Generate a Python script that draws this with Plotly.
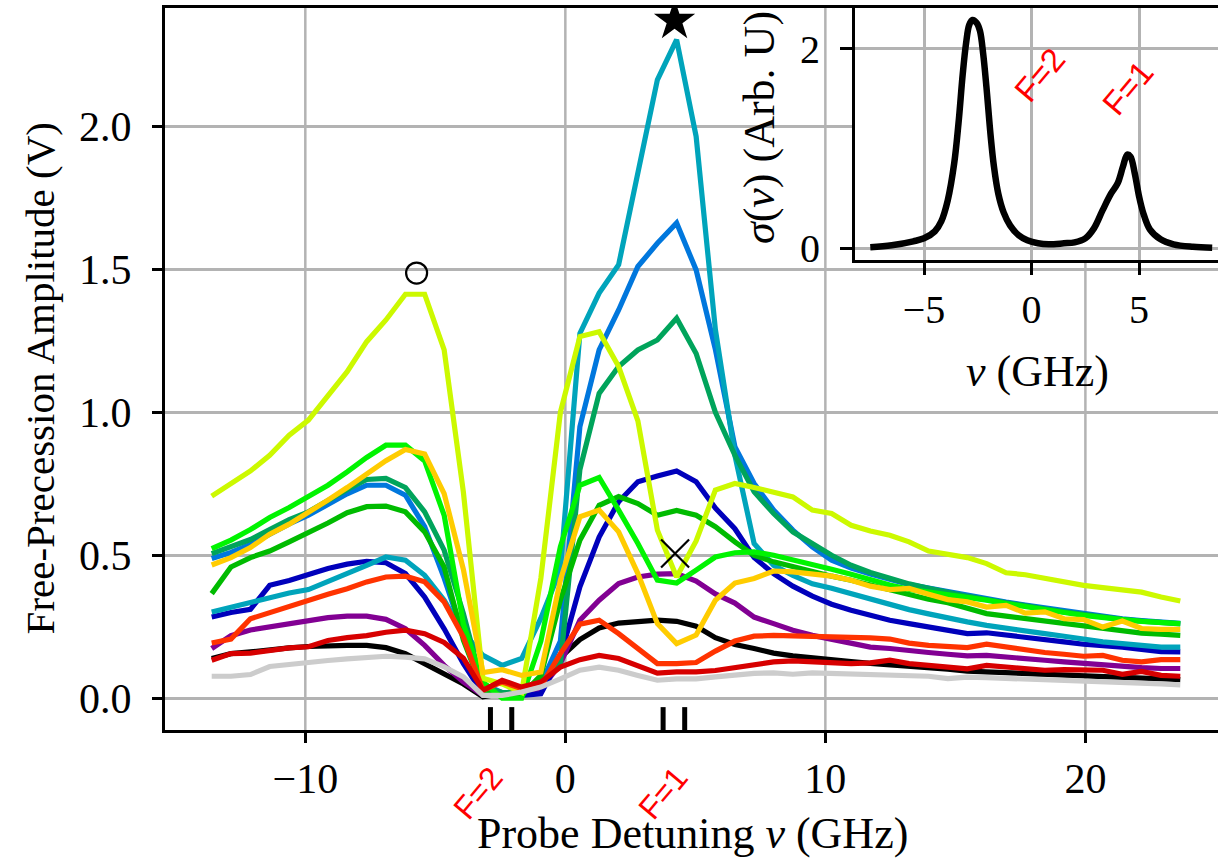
import plotly.graph_objects as go

# Probe detuning grid (GHz)
DETUNING = [-13.60, -12.86, -12.11, -11.37, -10.62, -9.88, -9.13, -8.39, -7.64, -6.90,
            -6.15, -5.41, -4.66, -3.92, -3.17, -2.43, -1.68, -0.94, -0.19, 0.56,
            1.30, 2.05, 2.79, 3.54, 4.28, 5.03, 5.77, 6.52, 7.26, 8.01,
            8.75, 9.50, 10.24, 10.99, 11.73, 12.48, 13.22, 13.97, 14.71, 15.46,
            16.20, 16.95, 17.69, 18.44, 19.18, 19.93, 20.67, 21.42, 22.16, 22.91,
            23.65]

# Free-precession amplitudes (V), one run per colour
AMP_BLACK = [0.139, 0.156, 0.162, 0.170, 0.176, 0.181, 0.185, 0.185, 0.185, 0.177, 0.156, 0.121, 0.086, 0.050, 0.005,
             0.016, 0.028, 0.059, 0.142, 0.205, 0.246, 0.263, 0.270, 0.273, 0.269, 0.252, 0.212,
             0.188, 0.174, 0.158, 0.148, 0.140, 0.134, 0.128, 0.122, 0.118, 0.112, 0.107, 0.102, 0.095,
             0.092, 0.088, 0.086, 0.084, 0.080, 0.078, 0.076, 0.073, 0.071, 0.068, 0.065]
AMP_PURPLE = [0.174, 0.219, 0.239, 0.249, 0.261, 0.272, 0.282, 0.287, 0.287, 0.276, 0.243, 0.185, 0.115, 0.057, 0.010,
              0.020, 0.020, 0.030, 0.121, 0.273, 0.343, 0.401, 0.424, 0.434, 0.436, 0.410, 0.365,
              0.333, 0.284, 0.261, 0.238, 0.220, 0.205, 0.191, 0.179, 0.174, 0.165, 0.160, 0.154, 0.148,
              0.150, 0.143, 0.139, 0.133, 0.127, 0.121, 0.115, 0.112, 0.107, 0.104, 0.104]
AMP_NAVY = [0.284, 0.300, 0.311, 0.395, 0.412, 0.434, 0.454, 0.469, 0.479, 0.474, 0.436, 0.354, 0.243, 0.121, 0.016,
            0.010, 0.010, 0.016, 0.145, 0.390, 0.564, 0.687, 0.757, 0.777, 0.795, 0.757, 0.665,
            0.593, 0.492, 0.436, 0.392, 0.357, 0.329, 0.308, 0.290, 0.273, 0.261, 0.249, 0.238, 0.226,
            0.229, 0.220, 0.212, 0.205, 0.197, 0.189, 0.185, 0.179, 0.171, 0.163, 0.162]
AMP_BLUE = [0.489, 0.510, 0.538, 0.575, 0.610, 0.640, 0.680, 0.715, 0.745, 0.745, 0.710, 0.600, 0.420, 0.220, 0.050,
            0.020, 0.020, 0.050, 0.200, 0.950, 1.218, 1.358, 1.510, 1.591, 1.662, 1.498, 1.220,
            0.880, 0.751, 0.658, 0.588, 0.529, 0.483, 0.455, 0.435, 0.415, 0.398, 0.385, 0.372, 0.360,
            0.348, 0.336, 0.326, 0.316, 0.305, 0.295, 0.286, 0.278, 0.272, 0.267, 0.262]
AMP_CYAN = [0.302, 0.319, 0.337, 0.354, 0.368, 0.380, 0.407, 0.436, 0.465, 0.494, 0.483, 0.430, 0.343, 0.230, 0.150,
            0.115, 0.139, 0.280, 0.450, 1.276, 1.417, 1.516, 1.842, 2.163, 2.303, 1.965, 1.290,
            0.850, 0.541, 0.465, 0.430, 0.400, 0.385, 0.365, 0.345, 0.325, 0.310, 0.295, 0.280, 0.267,
            0.255, 0.244, 0.234, 0.226, 0.217, 0.205, 0.197, 0.191, 0.185, 0.179, 0.179]
AMP_TEAL = [0.506, 0.529, 0.555, 0.590, 0.625, 0.652, 0.693, 0.730, 0.765, 0.769, 0.737, 0.652, 0.518, 0.296, 0.040,
            0.020, 0.020, 0.060, 0.120, 0.800, 1.066, 1.160, 1.218, 1.253, 1.329, 1.206, 1.000,
            0.850, 0.722, 0.646, 0.582, 0.541, 0.500, 0.465, 0.440, 0.420, 0.400, 0.385, 0.370, 0.357,
            0.345, 0.333, 0.323, 0.313, 0.302, 0.292, 0.283, 0.276, 0.270, 0.265, 0.260]
AMP_GREEN = [0.366, 0.459, 0.492, 0.515, 0.547, 0.578, 0.613, 0.649, 0.670, 0.672, 0.652, 0.582, 0.459, 0.203, 0.028,
             0.010, 0.010, 0.080, 0.343, 0.553, 0.675, 0.705, 0.681, 0.640, 0.657, 0.640, 0.600,
             0.547, 0.500, 0.477, 0.460, 0.442, 0.427, 0.413, 0.396, 0.376, 0.360, 0.346, 0.334, 0.313,
             0.296, 0.287, 0.278, 0.269, 0.261, 0.252, 0.243, 0.234, 0.228, 0.224, 0.220]
AMP_LIME = [0.523, 0.553, 0.590, 0.632, 0.667, 0.704, 0.745, 0.792, 0.842, 0.885, 0.885, 0.830, 0.640, 0.260, 0.057,
            0.000, 0.000, 0.200, 0.530, 0.745, 0.772, 0.658, 0.541, 0.413, 0.403, 0.448, 0.494,
            0.509, 0.512, 0.500, 0.485, 0.469, 0.451, 0.434, 0.413, 0.396, 0.381, 0.372, 0.362, 0.355,
            0.343, 0.331, 0.322, 0.312, 0.300, 0.290, 0.281, 0.275, 0.269, 0.265, 0.261]
AMP_CHARTREUSE = [0.707, 0.751, 0.795, 0.850, 0.920, 0.973, 1.055, 1.142, 1.247, 1.323, 1.413, 1.413, 1.218, 0.720, 0.070,
                  0.050, 0.020, 0.420, 1.000, 1.265, 1.282, 1.160, 0.970, 0.588, 0.424, 0.550, 0.728,
                  0.751, 0.737, 0.722, 0.704, 0.658, 0.646, 0.605, 0.585, 0.570, 0.547, 0.515, 0.504, 0.492,
                  0.471, 0.439, 0.432, 0.419, 0.405, 0.395, 0.387, 0.380, 0.371, 0.354, 0.340]
AMP_GOLD = [0.466, 0.492, 0.527, 0.574, 0.609, 0.649, 0.693, 0.737, 0.784, 0.831, 0.870, 0.854, 0.716, 0.450, 0.090,
            0.100, 0.080, 0.092, 0.413, 0.635, 0.658, 0.582, 0.436, 0.261, 0.191, 0.221, 0.343,
            0.403, 0.419, 0.445, 0.442, 0.434, 0.427, 0.413, 0.392, 0.380, 0.384, 0.364, 0.345, 0.337,
            0.319, 0.325, 0.298, 0.302, 0.278, 0.275, 0.249, 0.270, 0.244, 0.241, 0.241]
AMP_ORANGE = [0.193, 0.207, 0.278, 0.300, 0.319, 0.340, 0.364, 0.383, 0.407, 0.424, 0.427, 0.407, 0.337, 0.214, 0.028,
              0.057, 0.034, 0.042, 0.156, 0.259, 0.273, 0.226, 0.174, 0.121, 0.121, 0.125, 0.165,
              0.200, 0.217, 0.220, 0.218, 0.217, 0.214, 0.212, 0.211, 0.207, 0.193, 0.185, 0.182, 0.177,
              0.189, 0.179, 0.171, 0.160, 0.154, 0.147, 0.150, 0.133, 0.127, 0.135, 0.135]
AMP_RED = [0.133, 0.156, 0.158, 0.167, 0.176, 0.180, 0.202, 0.212, 0.219, 0.231, 0.238, 0.226, 0.195, 0.140, 0.028,
           0.063, 0.039, 0.057, 0.109, 0.135, 0.150, 0.139, 0.112, 0.088, 0.092, 0.092, 0.097,
           0.106, 0.119, 0.127, 0.131, 0.127, 0.122, 0.121, 0.124, 0.133, 0.121, 0.115, 0.113, 0.103,
           0.115, 0.109, 0.104, 0.098, 0.100, 0.098, 0.098, 0.084, 0.094, 0.080, 0.077]
AMP_GRAY = [0.077, 0.077, 0.083, 0.111, 0.118, 0.123, 0.132, 0.138, 0.144, 0.147, 0.144, 0.138, 0.110, 0.075, 0.010,
            0.010, 0.022, 0.039, 0.068, 0.098, 0.109, 0.098, 0.080, 0.063, 0.068, 0.068, 0.075,
            0.083, 0.087, 0.089, 0.084, 0.089, 0.087, 0.084, 0.082, 0.080, 0.080, 0.077, 0.069, 0.074,
            0.072, 0.070, 0.068, 0.066, 0.063, 0.060, 0.058, 0.056, 0.053, 0.050, 0.047]

RUNS = [AMP_BLACK, AMP_PURPLE, AMP_NAVY, AMP_BLUE, AMP_CYAN, AMP_TEAL, AMP_GREEN,
        AMP_LIME, AMP_CHARTREUSE, AMP_GOLD, AMP_ORANGE, AMP_RED, AMP_GRAY]
RUN_COLORS = ["#000000", "#820093", "#0000bb", "#0077dd", "#00a4bb", "#00a45b", "#00bb00",
              "#00f400", "#ccf900", "#ffcc00", "#ff3300", "#d70000", "#cccccc"]

# Highlighted points
STAR_X, STAR_Y = [4.2], [2.37]
CIRCLE_X, CIRCLE_Y = [-5.72], [1.487]
CROSS_X, CROSS_Y = [4.22], [0.506]

# Hyperfine line positions (GHz)
HF_LINES_F2 = [-2.88, -2.06]
HF_LINES_F1 = [3.76, 4.59]

# Absorption cross-section for the inset
SIGMA_NU = [-7.5, -6.5, -5.5, -5.0, -4.5, -4.2, -3.9, -3.6, -3.4, -3.2, -3.05, -2.9, -2.75,
            -2.55, -2.4, -2.25, -2.1, -1.9, -1.75, -1.55, -1.3, -1.0, -0.6, -0.2, 0.3, 0.8,
            1.5, 2.0, 2.5, 2.9, 3.3, 3.7, 4.0, 4.25, 4.45, 4.6, 4.8, 5.0, 5.2, 5.5, 6.0,
            6.6, 7.5, 8.4]
SIGMA_VAL = [0.01, 0.03, 0.07, 0.10, 0.17, 0.27, 0.48, 0.85, 1.25, 1.75, 2.05, 2.24, 2.29,
             2.26, 2.18, 1.95, 1.62, 1.12, 0.82, 0.55, 0.36, 0.23, 0.13, 0.08, 0.05, 0.04,
             0.05, 0.06, 0.10, 0.20, 0.38, 0.55, 0.65, 0.82, 0.94, 0.92, 0.75, 0.52, 0.35, 0.19, 0.09,
             0.04, 0.015, 0.005]

SERIF = "Liberation Serif"
SANS = "Liberation Sans"
GRID = "#b3b3b3"
RED_TEXT = "#ff0000"

fig = go.Figure()

for vals, col in zip(RUNS, RUN_COLORS):
    fig.add_trace(go.Scatter(x=DETUNING, y=vals, mode="lines",
                             line=dict(color=col, width=5.2),
                             showlegend=False, hoverinfo="skip"))

fig.add_trace(go.Scatter(x=STAR_X, y=STAR_Y, mode="markers",
                         marker=dict(symbol="star", size=31, color="black"),
                         showlegend=False, hoverinfo="skip"))
fig.add_trace(go.Scatter(x=CIRCLE_X, y=CIRCLE_Y, mode="markers",
                         marker=dict(symbol="circle-open", size=21, color="black",
                                     line=dict(width=2.2, color="black")),
                         showlegend=False, hoverinfo="skip"))
fig.add_trace(go.Scatter(x=CROSS_X, y=CROSS_Y, mode="markers",
                         marker=dict(symbol="x-thin-open", size=28, color="black",
                                     line=dict(width=2.2, color="black")),
                         showlegend=False, hoverinfo="skip"))

# short bars marking the hyperfine lines along the bottom of the axes
bar_x, bar_y = [], []
for xv in HF_LINES_F2 + HF_LINES_F1:
    bar_x += [xv, xv, None]
    bar_y += [-0.2, -0.031, None]
fig.add_trace(go.Scatter(x=bar_x, y=bar_y, mode="lines",
                         line=dict(color="black", width=5),
                         showlegend=False, hoverinfo="skip"))

# inset spectrum
fig.add_trace(go.Scatter(x=SIGMA_NU, y=SIGMA_VAL, mode="lines", line_shape="spline",
                         line=dict(color="black", width=6.5),
                         xaxis="x2", yaxis="y2", showlegend=False, hoverinfo="skip"))

INSET_X0 = 0.6553
INSET_Y0 = 0.6506

# vertical grid of the main axes (kept out of the inset box)
for xv in [-10, 0, 10]:
    fig.add_shape(type="line", xref="x", yref="paper", x0=xv, x1=xv, y0=0, y1=1,
                  line=dict(color=GRID, width=2.5), layer="below")
fig.add_shape(type="line", xref="x", yref="paper", x0=20, x1=20, y0=0, y1=INSET_Y0,
              line=dict(color=GRID, width=2.5), layer="below")

fig.update_layout(
    width=1218, height=864,
    margin=dict(l=165, r=0, t=8, b=134),
    paper_bgcolor="white", plot_bgcolor="white",
    font=dict(family=SERIF, color="black"),
    xaxis=dict(range=[-15.396, 25.10], domain=[0, 1], tickvals=[-10, 0, 10, 20],
               showgrid=False, zeroline=False, showline=True, mirror=True,
               linecolor="black", linewidth=3, ticks="outside", ticklen=10, tickwidth=2.5,
               tickcolor="black", tickfont=dict(size=42, family=SERIF)),
    yaxis=dict(range=[-0.111, 2.414], domain=[0, 1], tickvals=[0, 0.5, 1.0, 1.5, 2.0],
               tickformat=".1f", showgrid=True, gridcolor=GRID, gridwidth=2.5,
               zeroline=False, showline=True, mirror=False,
               linecolor="black", linewidth=3, ticks="outside", ticklen=10, tickwidth=2.5,
               tickcolor="black", tickfont=dict(size=42, family=SERIF),
               ticklabelstandoff=12),
    xaxis2=dict(range=[-8.21, 8.67], domain=[INSET_X0, 1], anchor="y2",
                tickvals=[-5, 0, 5], showgrid=True, gridcolor=GRID, gridwidth=2.5,
                zeroline=False, showline=True, mirror=True, linecolor="black", linewidth=3,
                ticks="outside", ticklen=12, tickwidth=2.5, tickcolor="black",
                tickfont=dict(size=40, family=SERIF)),
    yaxis2=dict(range=[-0.12, 2.41], domain=[INSET_Y0, 1], anchor="x2",
                tickvals=[0, 2], showgrid=True, gridcolor=GRID, gridwidth=2.5,
                zeroline=False, showline=True, mirror=False, linecolor="black", linewidth=3,
                ticks="outside", ticklen=12, tickwidth=2.5, tickcolor="black",
                tickfont=dict(size=40, family=SERIF), ticklabelstandoff=12),
)

annotations = [
    dict(text="Probe Detuning <i>ν</i> (GHz)", xref="paper", yref="paper",
         x=0.5014, y=-0.1427, showarrow=False, font=dict(size=44, family=SERIF),
         xanchor="center", yanchor="middle"),
    dict(text="Free-Precession Amplitude (V)", xref="paper", yref="paper",
         x=-0.1187, y=0.487, showarrow=False, textangle=-90,
         font=dict(size=41, family=SERIF), xanchor="center", yanchor="middle"),
    dict(text="<i>σ</i>(<i>ν</i>) (Arb. U)", xref="paper", yref="paper",
         x=0.564, y=0.835, showarrow=False, textangle=-90,
         font=dict(size=44, family=SERIF), xanchor="center", yanchor="middle"),
    dict(text="<i>ν</i> (GHz)", xref="paper", yref="paper",
         x=0.829, y=0.496, showarrow=False, font=dict(size=44, family=SERIF),
         xanchor="center", yanchor="middle"),
    dict(text="F=2", xref="x", yref="paper", x=-3.36, y=-0.0873, showarrow=False,
         textangle=-50, font=dict(size=32, family=SANS, color=RED_TEXT),
         xanchor="center", yanchor="middle"),
    dict(text="F=1", xref="x", yref="paper", x=3.76, y=-0.0873, showarrow=False,
         textangle=-50, font=dict(size=32, family=SANS, color=RED_TEXT),
         xanchor="center", yanchor="middle"),
    dict(text="F=2", xref="x2", yref="y2", x=0.40, y=1.74, showarrow=False,
         textangle=-50, font=dict(size=33, family=SANS, color=RED_TEXT),
         xanchor="center", yanchor="middle"),
    dict(text="F=1", xref="x2", yref="y2", x=4.5, y=1.61, showarrow=False,
         textangle=-50, font=dict(size=33, family=SANS, color=RED_TEXT),
         xanchor="center", yanchor="middle"),
]
fig.update_layout(annotations=annotations)

fig.write_html("out.html")
